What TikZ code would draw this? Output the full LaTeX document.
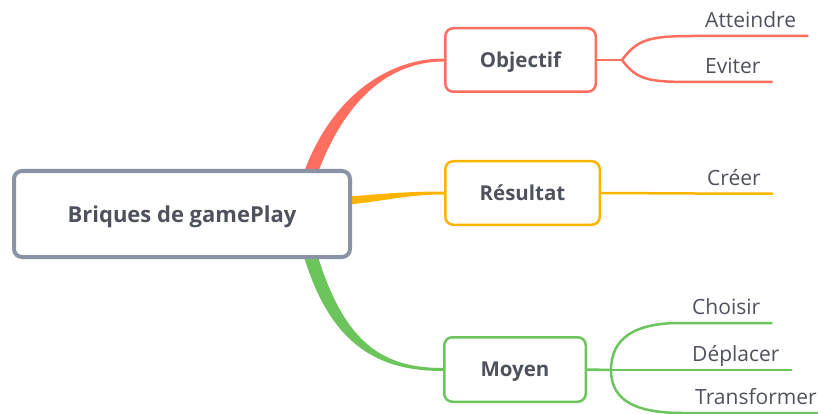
\documentclass[tikz,border=0pt]{standalone}
\usepackage{fontspec}
\setmainfont{Open Sans}
\usepackage{tikz}
\usetikzlibrary{calc, backgrounds}
\definecolor{brRed}{HTML}{FF6E5F}
\definecolor{brYellow}{HTML}{FFB400}
\definecolor{brGreen}{HTML}{6CC45C}
\definecolor{rootGray}{HTML}{8A93A6}
\definecolor{inkGray}{HTML}{4D525C}
\tikzset{
  rootbox/.style={
    draw=rootGray, line width=4pt, rounded corners=8pt, fill=white,
    minimum width=336pt, minimum height=86pt,
    text height=17pt, text depth=0pt,
    font=\fontsize{22}{26}\selectfont\bfseries, text=inkGray
  },
  topicbox/.style={
    draw=#1, line width=2.5pt, rounded corners=8pt, fill=white,
    minimum height=63.5pt, text height=14.5pt, text depth=0pt,
    font=\fontsize{20.5}{24}\selectfont\bfseries, text=inkGray
  },
  leaf/.style={
    anchor=south west, inner xsep=12pt, inner ysep=3pt,
    text height=15pt, text depth=5pt,
    font=\fontsize{21}{25}\selectfont, text=inkGray
  },
  leafline/.style={line width=2.5pt, #1}
}

\begin{document}
\begin{tikzpicture}[x=1pt, y=-1pt]
\useasboundingbox (0,0) rectangle (818,414);

\node[rootbox] (root) at (182,214) {Briques de gamePlay};

\node[topicbox=brRed, minimum width=150.5pt] (obj) at (520.5,60) {Objectif};
\node[topicbox=brYellow, minimum width=154.5pt] (res) at (522.5,193) {Résultat};
\node[topicbox=brGreen, minimum width=141.5pt, minimum height=64.5pt] (moy) at (515,369.5) {Moyen};

\node[leaf] (atteindre) at (693,36) {Atteindre};
\node[leaf] (eviter) at (693,82) {Eviter};
\node[leaf] (creer) at (695,193.5) {Créer};
\node[leaf] (choisir) at (680,323) {Choisir};
\node[leaf] (deplacer) at (680,370) {Déplacer};
\node[leaf] (transformer) at (683,413) {Transformer};

\coordinate (objfork) at (622,60);
\coordinate (moyfork) at (611,370);

\begin{scope}[on background layer]
\fill[brRed] ($(root.north east)+(-50,9)$) .. controls +(24,-72) and +(-64,0) .. ($(obj.west)+(0,-1.5)$)
  -- ($(obj.west)+(0,1.5)$) .. controls +(-62,0) and +(24,-68) .. ($(root.north east)+(-36,9)$) -- cycle;
\fill[brYellow] ($(root.east)+(-10,-17)$) .. controls +(40,-3) and +(-40,0) .. ($(res.west)+(0,-1.5)$)
  -- ($(res.west)+(0,1.5)$) .. controls +(-40,0) and +(40,-3) .. ($(root.east)+(-10,-9)$) -- cycle;
\fill[brGreen] ($(root.south east)+(-50,-9)$) .. controls +(28,100) and +(-60,0) .. ($(moy.west)+(0,1.5)$)
  -- ($(moy.west)+(0,-1.5)$) .. controls +(-58,0) and +(28,96) .. ($(root.south east)+(-36,-9)$) -- cycle;
\end{scope}

\draw[leafline=brRed] (obj.east) -- (objfork);
\draw[leafline=brRed] (objfork) .. controls +(15,-20) and +(-45,0) .. (atteindre.south west) -- (atteindre.south east);
\draw[leafline=brRed] (objfork) .. controls +(15,20) and +(-45,0) .. (eviter.south west) -- (eviter.south east);

\draw[leafline=brYellow] (res.east) -- (creer.south west) -- (creer.south east);

\draw[leafline=brGreen] (moy.east) -- (moyfork);
\draw[leafline=brGreen] (moyfork) .. controls +(0,-32) and +(-45,0) .. (choisir.south west) -- (choisir.south east);
\draw[leafline=brGreen] (moyfork) -- (deplacer.south west) -- (deplacer.south east);
\draw[leafline=brGreen] (moyfork) .. controls +(0,32) and +(-45,0) .. (transformer.south west) -- (transformer.south east);

\end{tikzpicture}
\end{document}
